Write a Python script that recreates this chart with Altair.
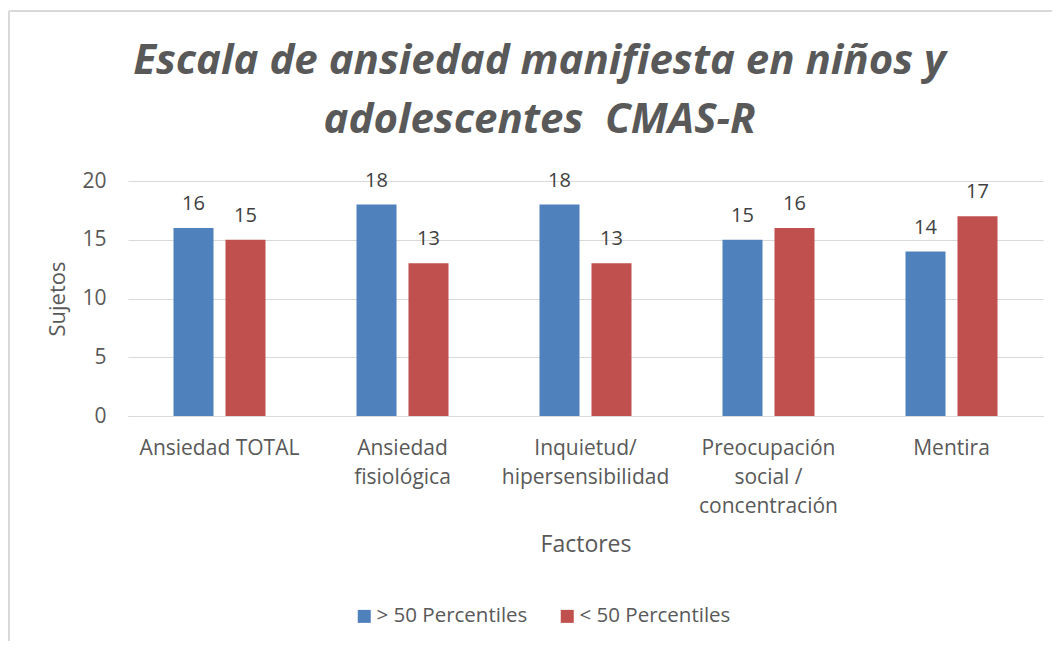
import altair as alt
import pandas as pd

categories = ["Ansiedad TOTAL", "Ansiedad\nfisiológica", "Inquietud/\nhipersensibilidad",
              "Preocupación\nsocial /\nconcentración", "Mentira"]
series = ["> 50 Percentiles", "< 50 Percentiles"]
above_50 = [16, 18, 18, 15, 14]
below_50 = [15, 13, 13, 16, 17]
colors = ["#4F81BD", "#C0504D"]

rows = []
for c, a, b in zip(categories, above_50, below_50):
    rows.append({"Factor": c, "Serie": series[0], "Valor": a})
    rows.append({"Factor": c, "Serie": series[1], "Valor": b})
df = pd.DataFrame(rows)

FONT = "Open Sans"
TXT = "#595959"

x = alt.X("Factor:N", sort=categories,
          scale=alt.Scale(paddingInner=0, paddingOuter=0),
          axis=alt.Axis(title="Factores", labelAngle=0,
                        labelExpr="split(datum.label, '\\n')",
                        labelFontSize=21, labelColor=TXT, labelFont=FONT,
                        labelLineHeight=29, labelPadding=21, labelBaseline="top",
                        titleFontSize=23, titleColor=TXT, titleFont=FONT,
                        titleFontWeight="normal", titlePadding=17,
                        domainColor="#D9D9D9", ticks=False, grid=False))
xo = alt.XOffset("Serie:N", sort=series,
                 scale=alt.Scale(paddingInner=0.23, paddingOuter=0.875))
y = alt.Y("Valor:Q", scale=alt.Scale(domain=[0, 20]),
          axis=alt.Axis(title="Sujetos", values=[0, 5, 10, 15, 20],
                        labelFontSize=21, labelColor=TXT, labelFont=FONT,
                        labelPadding=22, titleFontSize=22, titleColor=TXT,
                        titleFont=FONT, titleFontWeight="normal", titlePadding=12,
                        domain=False, ticks=False, gridColor="#D9D9D9"))

bars = alt.Chart(df).mark_bar().encode(
    x=x, xOffset=xo, y=y,
    color=alt.Color("Serie:N", sort=series,
                    scale=alt.Scale(domain=series, range=colors),
                    legend=alt.Legend(title=None, orient="none", direction="horizontal",
                                      legendX=226, legendY=425,
                                      symbolType="square", symbolSize=169,
                                      symbolStrokeWidth=0,
                                      labelFontSize=20.5, labelColor=TXT, labelFont=FONT,
                                      labelOffset=2, columnPadding=29))
)

labels = alt.Chart(df).mark_text(baseline="alphabetic", dy=-18, fontSize=20,
                                 color="#404040", font=FONT).encode(
    x=alt.X("Factor:N", sort=categories), xOffset=alt.XOffset("Serie:N", sort=series),
    y="Valor:Q", text="Valor:Q")

border_left = alt.Chart(df).mark_rule(color="#D9D9D9", strokeWidth=1.5).encode(
    x=alt.value(-119), y=alt.value(-170), y2=alt.value(470))
border_top = alt.Chart(df).mark_rule(color="#D9D9D9", strokeWidth=1.5).encode(
    x=alt.value(-119), x2=alt.value(940), y=alt.value(-170))

chart = alt.layer(border_left, border_top, bars, labels).properties(
    width=915, height=235,
    title=alt.TitleParams(
        text=["Escala de ansiedad manifiesta en niños y", "adolescentes\u00a0 CMAS-R"],
        font=FONT, fontSize=42, fontStyle="italic", fontWeight="bold",
        color=TXT, anchor="middle", baseline="alphabetic", dx=-46, offset=-165,
        lineHeight=59),
    autosize=alt.AutoSizeParams(type="none"),
    padding={"left": 120, "top": 173, "right": 9, "bottom": 225},
).configure_view(stroke=None)

chart.save("out.html", embed_options={"renderer": "svg", "actions": False})
